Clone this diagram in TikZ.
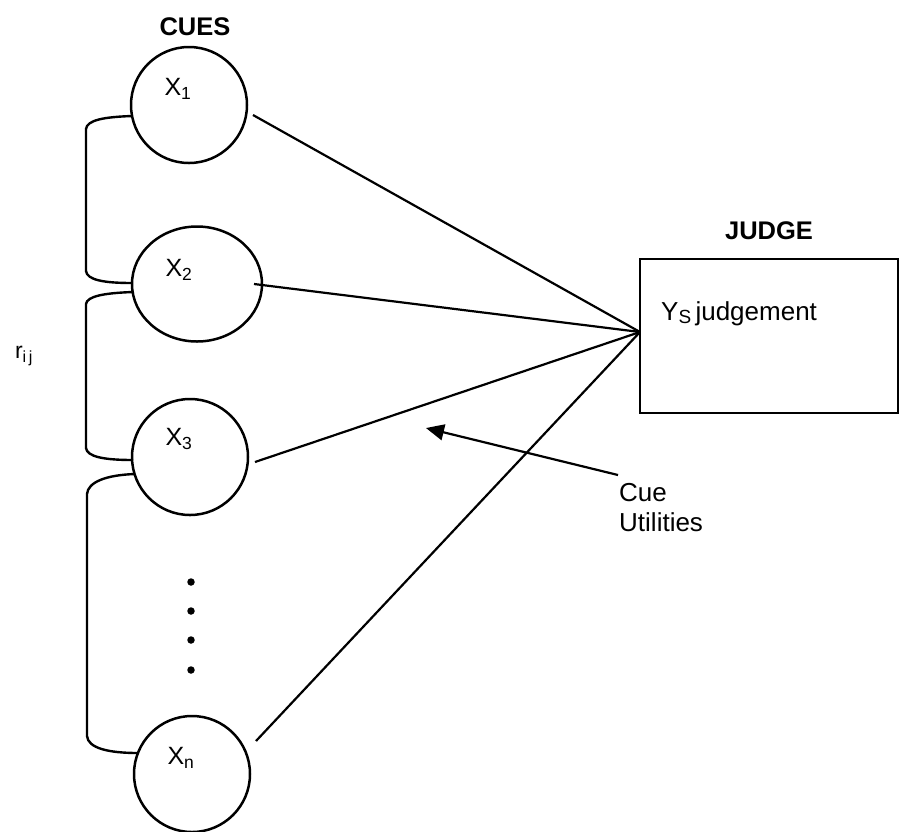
\documentclass[tikz,border=0pt]{standalone}
\usepackage{fontspec}
\setmainfont{Liberation Sans}
\usetikzlibrary{arrows.meta,shapes.geometric}
\begin{document}
\begin{tikzpicture}[x=1pt,y=-1pt,
  cue/.style={draw,circle,line width=2.5pt,minimum size=116pt,inner sep=0pt},
  link/.style={line width=2.2pt},
  brace/.style={line width=2.4pt},
  xlbl/.style={font=\fontsize{25}{29}\selectfont,inner sep=0pt},
  lbl/.style={font=\fontsize{26}{30}\selectfont,inner sep=0pt},
  head/.style={font=\fontsize{25.5}{29}\selectfont\bfseries,inner sep=0pt},
  dotmark/.style={circle,fill,inner sep=0pt,minimum size=7.5pt}]
\useasboundingbox (0,0) rectangle (899,831);

% cue nodes
\node[cue] (X1) at (189,105) {};
\node[cue,ellipse,minimum width=130pt,minimum height=115pt] (X2) at (197,284) {};
\node[cue] (X3) at (190,457) {};
\node[cue] (Xn) at (192,774) {};

\node[xlbl] (l1) at (178,89) {X\textsubscript{1}};
\node[xlbl] (l2) at (179,270) {X\textsubscript{2}};
\node[xlbl] (l3) at (179,439) {X\textsubscript{3}};
\node[xlbl] (ln) at (181,758) {X\textsubscript{n}};

% headings
\node[head] (cues) at (195,27) {CUES};
\node[head] (judgeh) at (769,231) {JUDGE};

% judge box
\node[draw,line width=2.4pt,minimum width=258pt,minimum height=154pt,inner sep=0pt] (J) at (769,336) {};
\node[lbl,anchor=west] (ys) at (661,314)
  {Y\raisebox{-3pt}{\fontsize{19}{20}\selectfont S}\,judgement};
\coordinate (jin) at (640,332);

% connectors from cues to judge
\coordinate (s1) at (253,115);
\coordinate (s2) at (254,284);
\coordinate (s3) at (255,462);
\coordinate (sn) at (256,741);
\draw[link] (s1) -- (jin);
\draw[link] (s2) -- (jin);
\draw[link] (s3) -- (jin);
\draw[link] (sn) -- (jin);

% correlation brackets
\coordinate (a1) at (132,116);
\coordinate (b2) at (132,283);
\coordinate (a2) at (133,292);
\coordinate (b3) at (133,460);
\coordinate (a3) at (135,474);
\coordinate (bn) at (138,753);
\draw[brace] (a1) .. controls (104,117) and (87,120) .. (86,129) -- (86,271)
  .. controls (87,280) and (104,283) .. (b2);
\draw[brace] (a2) .. controls (105,293) and (87,296) .. (86,304) -- (86,448)
  .. controls (87,457) and (105,460) .. (b3);
\draw[brace] (a3) .. controls (106,475) and (88,482) .. (87,494) -- (87,736)
  .. controls (88,748) and (108,753) .. (bn);

\node[inner sep=0pt,font=\fontsize{23}{27}\selectfont] (rij) at (24,356) {r\textsubscript{i\,j}};

% ellipsis dots
\node[dotmark] (d1) at (191,582) {};
\node[dotmark] (d2) at (191,611) {};
\node[dotmark] (d3) at (191,640) {};
\node[dotmark] (d4) at (191,670) {};

% cue utilities annotation
\node[lbl,anchor=west,align=left] (cu) at (619,508) {Cue\\Utilities};
\coordinate (atail) at (618,475);
\coordinate (atip) at (426,428);
\draw[link,-{Triangle[length=18pt,width=16pt]}] (atail) -- (atip);
\end{tikzpicture}
\end{document}
